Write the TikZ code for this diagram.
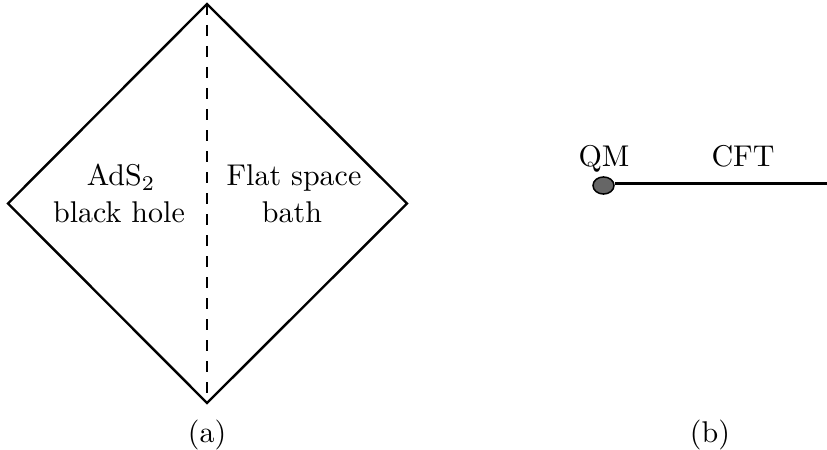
\documentclass[tikz,border=0pt]{standalone}
\usetikzlibrary{shapes.geometric}
\begin{document}
\begin{tikzpicture}[x=0.3333pt,y=-0.3333pt,
  edge/.style={line width=0.8pt, line join=miter},
  dashline/.style={line width=0.65pt, dash pattern=on 3.6pt off 3.4pt},
  lbl/.style={anchor=base, inner sep=0pt, font=\normalsize},
  qmdot/.style={ellipse, draw=black, fill=black!60, line width=0.5pt, minimum width=7pt, minimum height=5.7pt, inner sep=0pt}]
\useasboundingbox (0,0) rectangle (827,450);
% diamond
\coordinate (T) at (207,4);
\coordinate (L) at (8,203.5);
\coordinate (R) at (407,203.5);
\coordinate (B) at (207,403);
\draw[edge] (T) -- (R) -- (B) -- (L) -- cycle;
\draw[dashline] (T) -- (B);
\node[lbl] (ads) at (121,186) {AdS$_2$};
\node[lbl] (bh) at (119,223) {black hole};
\node[lbl] (fs) at (294,186) {Flat space};
\node[lbl] (bath) at (292,223) {bath};
\node[lbl] (capa) at (207,443) {(a)};
% right panel
\node[qmdot] (qm) at (603.5,185.5) {};
\coordinate (end) at (827,183.5);
\draw[line width=0.7pt] (qm.east |- end) -- (end);
\node[lbl] (qmt) at (604,167) {QM};
\node[lbl] (cft) at (743,167) {CFT};
\node[lbl] (capb) at (710,443) {(b)};
\end{tikzpicture}
\end{document}
